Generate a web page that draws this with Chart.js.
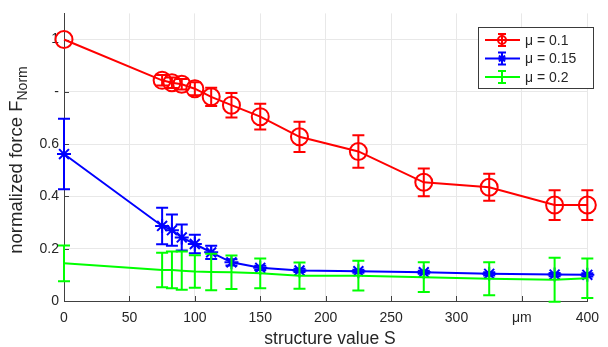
<!DOCTYPE html>
<html><head><meta charset="utf-8">
<script src="https://cdn.jsdelivr.net/npm/chart.js@4/dist/chart.umd.min.js"></script>
<style>html,body{margin:0;padding:0;background:#fff;overflow:hidden}</style>
</head><body>
<canvas id="c" width="608" height="347"></canvas>
<script>
// ---- data ----
const structureValues = [0, 75, 82.5, 90, 100, 112.5, 128, 150, 180, 225, 275, 325, 375, 400];
const seriesLabels = ['μ = 0.1', 'μ = 0.15', 'μ = 0.2'];
const mu01 = [1.000, 0.844, 0.835, 0.829, 0.812, 0.781, 0.749, 0.705, 0.628, 0.572, 0.454, 0.435, 0.367, 0.367];
const mu01Err = [0.000, 0.020, 0.020, 0.020, 0.025, 0.035, 0.047, 0.049, 0.058, 0.062, 0.053, 0.052, 0.057, 0.057];
const mu015 = [0.562, 0.287, 0.271, 0.243, 0.218, 0.186, 0.148, 0.127, 0.117, 0.114, 0.110, 0.104, 0.101, 0.100];
const mu015Err = [0.135, 0.070, 0.060, 0.050, 0.035, 0.025, 0.012, 0.008, 0.006, 0.006, 0.006, 0.006, 0.006, 0.006];
const mu02 = [0.144, 0.119, 0.119, 0.116, 0.113, 0.111, 0.110, 0.106, 0.097, 0.097, 0.091, 0.085, 0.081, 0.087];
const mu02Err = [0.068, 0.066, 0.070, 0.073, 0.062, 0.070, 0.064, 0.057, 0.050, 0.057, 0.057, 0.063, 0.084, 0.076];
const xTickValues = [0, 50, 100, 150, 200, 250, 300, 350, 400];
const xTickLabels = ['0', '50', '100', '150', '200', '250', '300', 'μm', '400'];
const yTickValues = [0, 0.2, 0.4, 0.6, 0.8, 1.0];
const yTickLabels = ['0', '0.2', '0.4', '0.6', '-', '1'];
const xTitle = 'structure value S';
const yTitleMain = 'normalized force F';
const yTitleSub = 'Norm';

const FONT = '"Liberation Sans", Arial, sans-serif';
const TXT = '#262626';
const AX = '#404040';

const errs = [mu01Err, mu015Err, mu02Err];
const pts = a => structureValues.map((x, i) => ({x: x, y: a[i]}));

const errorBarPlugin = {
  id: 'errbars',
  afterDatasetDraw(chart, args) {
    const ds = chart.data.datasets[args.index];
    const e = errs[args.index];
    const ys = chart.scales.y;
    const ctx = chart.ctx;
    ctx.save();
    ctx.strokeStyle = ds.borderColor;
    ctx.lineWidth = 2;
    args.meta.data.forEach((p, i) => {
      if (!e[i]) return;
      const v = ds.data[i].y;
      const t = ys.getPixelForValue(v + e[i]);
      const b = ys.getPixelForValue(v - e[i]);
      ctx.beginPath();
      ctx.moveTo(p.x, t); ctx.lineTo(p.x, b);
      ctx.moveTo(p.x - 6, t); ctx.lineTo(p.x + 6, t);
      ctx.moveTo(p.x - 6, b); ctx.lineTo(p.x + 6, b);
      ctx.stroke();
    });
    ctx.restore();
  },
  beforeDatasetsDraw(chart) {
    const {ctx, chartArea: ca, scales} = chart;
    ctx.save();
    ctx.strokeStyle = AX; ctx.lineWidth = 1;
    ctx.beginPath();
    xTickValues.forEach(v => {
      const x = Math.round(scales.x.getPixelForValue(v)) + 0.5;
      ctx.moveTo(x, ca.bottom); ctx.lineTo(x, ca.bottom - 5);
    });
    yTickValues.forEach(v => {
      const y = Math.round(scales.y.getPixelForValue(v)) + 0.5;
      ctx.moveTo(ca.left, y); ctx.lineTo(ca.left + 5, y);
    });
    ctx.stroke();
    ctx.restore();
  },
  afterDraw(chart) {
    const {ctx, chartArea: ca} = chart;
    ctx.save();
    // x title
    ctx.fillStyle = TXT;
    ctx.font = '17.5px ' + FONT;
    ctx.textAlign = 'center'; ctx.textBaseline = 'alphabetic';
    ctx.fillText(xTitle, 330, 344);
    // y title with subscript
    ctx.translate(22, 160);
    ctx.rotate(-Math.PI / 2);
    ctx.font = '18.5px ' + FONT;
    const w1 = ctx.measureText(yTitleMain).width;
    ctx.font = '14px ' + FONT;
    const w2 = ctx.measureText(yTitleSub).width;
    const start = -(w1 + w2) / 2;
    ctx.textAlign = 'left';
    ctx.font = '18.5px ' + FONT;
    ctx.fillText(yTitleMain, start, 0);
    ctx.font = '14px ' + FONT;
    ctx.fillText(yTitleSub, start + w1, 5);
    ctx.restore();

    // legend
    ctx.save();
    const lx = 478, ly = 27, lw = 115, lh = 61;
    ctx.fillStyle = '#fff';
    ctx.fillRect(lx, ly, lw, lh);
    ctx.strokeStyle = '#3a3a3a'; ctx.lineWidth = 1;
    ctx.strokeRect(lx + 0.5, ly + 0.5, lw, lh);
    const rows = [40, 58.5, 77];
    chart.data.datasets.forEach((ds, i) => {
      const y = rows[i];
      ctx.strokeStyle = ds.borderColor; ctx.lineWidth = 2;
      ctx.beginPath();
      ctx.moveTo(485, y); ctx.lineTo(520, y);
      ctx.moveTo(502, y - 6); ctx.lineTo(502, y + 6);
      ctx.moveTo(498, y - 6); ctx.lineTo(506, y - 6);
      ctx.moveTo(498, y + 6); ctx.lineTo(506, y + 6);
      ctx.stroke();
      if (i === 0) {
        ctx.beginPath(); ctx.arc(502, y, 4, 0, Math.PI * 2); ctx.stroke();
      } else if (i === 1) {
        ctx.beginPath();
        ctx.moveTo(498, y); ctx.lineTo(506, y);
        ctx.moveTo(499, y - 3); ctx.lineTo(505, y + 3);
        ctx.moveTo(499, y + 3); ctx.lineTo(505, y - 3);
        ctx.stroke();
      }
      ctx.fillStyle = TXT;
      ctx.font = '14px ' + FONT;
      ctx.textAlign = 'left'; ctx.textBaseline = 'middle';
      ctx.fillText(seriesLabels[i], 525, y + 1);
    });
    ctx.restore();
  }
};

new Chart(document.getElementById('c'), {
  type: 'line',
  data: {
    datasets: [
      {label: seriesLabels[0], data: pts(mu01), borderColor: '#ff0000', backgroundColor: 'rgba(0,0,0,0)',
       borderWidth: 2, pointStyle: 'circle', pointRadius: 8.5, pointBorderWidth: 2, pointBackgroundColor: 'rgba(0,0,0,0)', order: 2, clip: false},
      {label: seriesLabels[1], data: pts(mu015), borderColor: '#0000ff', backgroundColor: 'rgba(0,0,0,0)',
       borderWidth: 2, pointStyle: 'star', pointRadius: 7, pointBorderWidth: 2, order: 1, clip: false},
      {label: seriesLabels[2], data: pts(mu02), borderColor: '#00ff00', backgroundColor: 'rgba(0,0,0,0)',
       borderWidth: 2, pointRadius: 0, order: 0, clip: false}
    ]
  },
  options: {
    responsive: false, animation: false, devicePixelRatio: 1,
    layout: {autoPadding: false, padding: {left: 0, right: 13, top: 11, bottom: 0}},
    plugins: {legend: {display: false}, tooltip: {enabled: false}},
    elements: {line: {tension: 0}},
    scales: {
      x: {
        type: 'linear', min: 0, max: 400,
        afterBuildTicks: s => { s.ticks = xTickValues.map(v => ({value: v})); },
        afterFit: s => { s.height = 46; },
        ticks: {callback: v => xTickLabels[xTickValues.indexOf(v)], color: TXT, font: {family: FONT, size: 14}, padding: 9, maxRotation: 0, autoSkip: false},
        grid: {color: '#e8e8e8', drawTicks: false},
        border: {display: true, color: AX, width: 1}
      },
      y: {
        type: 'linear', min: 0, max: 1.1,
        afterBuildTicks: s => { s.ticks = yTickValues.map(v => ({value: v})); },
        afterFit: s => { s.width = 64; },
        ticks: {callback: v => yTickLabels[yTickValues.findIndex(t => Math.abs(t - v) < 1e-9)], color: TXT, font: {family: FONT, size: 14}, padding: 5},
        grid: {color: '#e8e8e8', drawTicks: false},
        border: {display: true, color: AX, width: 1}
      }
    }
  },
  plugins: [errorBarPlugin]
});
</script>
</body></html>
